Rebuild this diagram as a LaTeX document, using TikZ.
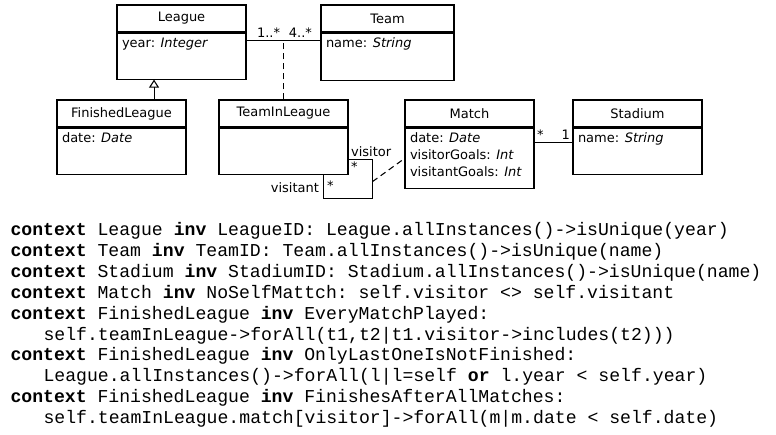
\documentclass[tikz,border=0pt]{standalone}
\usepackage{fontspec}
\setsansfont{DejaVu Sans}
\setmonofont{Liberation Mono}
\usepackage{tikz}
\usetikzlibrary{positioning,arrows.meta,calc}

\begin{document}
\begin{tikzpicture}[x=0.75pt, y=-0.75pt, line width=0.8pt,
  every node/.style={font=\sffamily\fontsize{9.75}{12.75}\selectfont},
  classhead/.style={draw, minimum width=96.75pt, minimum height=20.25pt, inner sep=0pt},
  classbody/.style={draw, minimum width=96.75pt, minimum height=34.5pt, inner sep=0pt},
  attr/.style={anchor=north west, align=left, inner sep=0pt},
  mult/.style={inner sep=1.5pt},
  ocl/.style={anchor=base west, inner sep=0pt, font=\ttfamily\fontsize{13.6}{15}\selectfont},
  headline/.style={line width=1.8pt},
  gen/.style={-{Triangle[open, length=6pt, width=7.5pt]}},
  assocdash/.style={dashed, dash pattern=on 4.5pt off 3pt}]
  \useasboundingbox (0,0) rectangle (776,435);

  % classes
  \node[classhead] (league) at (181.5,18.5) {League};
  \node[classbody, below=0pt of league] (leaguebody) {};
  \node[classhead, minimum width=99.75pt] (team) at (387.5,18.5) {Team};
  \node[classbody, minimum width=99.75pt, minimum height=35.25pt, below=0pt of team] (teambody) {};
  \node[classhead] (finished) at (121.5,113.5) {FinishedLeague};
  \node[classbody, below=0pt of finished] (finishedbody) {};
  \node[classhead] (til) at (283.5,113.5) {TeamInLeague};
  \node[classbody, below=0pt of til] (tilbody) {};
  \node[classhead] (match) at (469.5,113.5) {Match};
  \node[classbody, minimum height=45pt, below=0pt of match] (matchbody) {};
  \node[classhead] (stadium) at (637.5,113.5) {Stadium};
  \node[classbody, below=0pt of stadium] (stadiumbody) {};

  \foreach \c in {league,team,finished,til,match,stadium}
    \draw[headline] (\c.south west) -- (\c.south east);

  % attributes
  \node[attr] (leagueattr) at ([shift={(5,5)}]leaguebody.north west) {year: \textit{Integer}};
  \node[attr] (teamattr) at ([shift={(5,5)}]teambody.north west) {name: \textit{String}};
  \node[attr] (finishedattr) at ([shift={(5,5)}]finishedbody.north west) {date: \textit{Date}};
  \node[attr] (matchattr) at ([shift={(5,5)}]matchbody.north west)
    {date: \textit{Date}\\visitorGoals: \textit{Int}\\visitantGoals: \textit{Int}};
  \node[attr] (stadiumattr) at ([shift={(5,5)}]stadiumbody.north west) {name: \textit{String}};

  % League -- Team
  \coordinate (lt) at ([yshift=-6pt]leaguebody.north east);
  \draw (lt) -- (lt -| teambody.west);
  \node[mult, anchor=south west] (m1) at ([xshift=6pt]lt) {1..*};
  \node[mult, anchor=south east] (m2) at ([xshift=-4.5pt]lt -| teambody.west) {4..*};
  \draw[assocdash] (til.north) -- (til.north |- lt);

  % generalization
  \draw[gen] ([xshift=24.4pt]finished.north) -- ([xshift=24.4pt]finished.north |- leaguebody.south);

  % visitor / visitant
  \coordinate (vstart) at ([yshift=11.25pt]tilbody.south east);
  \draw (vstart) -- ++(24,0) -- ++(0,39) -- ++(-49,0) -- ++(0,-24);
  \node[mult, anchor=south west] (visitor) at (vstart) {visitor};
  \node[mult, anchor=north west] (vstar) at (vstart) {*};
  \coordinate (vend) at ([xshift=-18.75pt]tilbody.south east);
  \node[mult, anchor=east] (visitant) at ([shift={(-2,13)}]vend) {visitant};
  \node[mult, anchor=west] (vtstar) at ([shift={(1,11)}]vend) {*};
  \draw[assocdash] ([shift={(24,22)}]vstart) -- ([yshift=-23.25pt]matchbody.north west);

  % Match -- Stadium
  \draw ([yshift=-11.25pt]matchbody.north east) -- ([yshift=-11.25pt]stadiumbody.north west);
  \node[mult, anchor=south west] (ms1) at ([yshift=-11.25pt]matchbody.north east) {*};
  \node[mult, anchor=south east] (ms2) at ([yshift=-11.25pt]stadiumbody.north west) {1};

  % OCL constraints
  \node[ocl] (ocl1) at (10,236) {\textbf{context} League \textbf{inv} LeagueID: League.allInstances()->isUnique(year)};
  \node[ocl] (ocl2) at (10,256.8) {\textbf{context} Team \textbf{inv} TeamID: Team.allInstances()->isUnique(name)};
  \node[ocl] (ocl3) at (10,277.6) {\textbf{context} Stadium \textbf{inv} StadiumID: Stadium.allInstances()->isUnique(name)};
  \node[ocl] (ocl4) at (10,298.4) {\textbf{context} Match \textbf{inv} NoSelfMattch: self.visitor <> self.visitant};
  \node[ocl] (ocl5) at (10,319.2) {\textbf{context} FinishedLeague \textbf{inv} EveryMatchPlayed:};
  \node[ocl] (ocl6) at (43,340) {self.teamInLeague->forAll(t1,t2|t1.visitor->includes(t2)))};
  \node[ocl] (ocl7) at (10,360.8) {\textbf{context} FinishedLeague \textbf{inv} OnlyLastOneIsNotFinished:};
  \node[ocl] (ocl8) at (43,381.6) {League.allInstances()->forAll(l|l=self \textbf{or} l.year < self.year)};
  \node[ocl] (ocl9) at (10,402.4) {\textbf{context} FinishedLeague \textbf{inv} FinishesAfterAllMatches:};
  \node[ocl] (ocl10) at (43,423.2) {self.teamInLeague.match[visitor]->forAll(m|m.date < self.date)};
\end{tikzpicture}
\end{document}
